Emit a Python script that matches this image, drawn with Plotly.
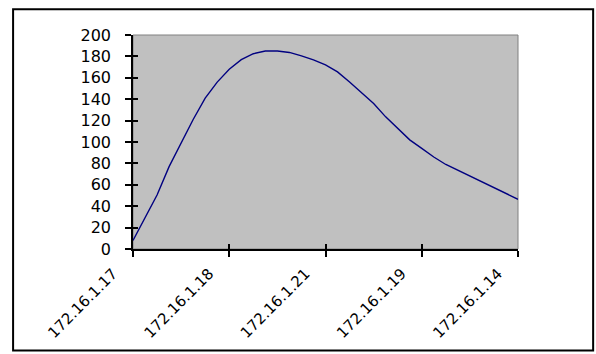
import plotly.graph_objects as go

# Data
point_index = list(range(33))
values = [8, 29.5, 50.5, 77, 99, 121, 141, 156, 168, 177, 182.5, 185, 185, 183.7,
          180.5, 176.8, 172, 165.5, 156, 146, 136, 123.5, 112.5, 102, 94, 86, 79,
          73.5, 68, 62.5, 57, 51.5, 46.5]
tick_positions = [0, 8, 16, 24, 32]
tick_labels = ["172.16.1.17", "172.16.1.18", "172.16.1.21", "172.16.1.19", "172.16.1.14"]
y_ticks = list(range(0, 201, 20))

W, H = 596, 354
L, R, T, B = 133, 596 - 518.3, 35, 354 - 250.7
pw, ph = W - L - R, H - T - B

yfont = dict(family="DejaVu Sans, sans-serif", size=16, color="black")
xfont = dict(family="DejaVu Sans, sans-serif", size=15, color="black")

fig = go.Figure()
fig.add_trace(go.Scatter(x=point_index, y=values, mode="lines",
                         line=dict(color="#000080", width=1.4),
                         hoverinfo="skip", showlegend=False))

fig.update_layout(
    width=W, height=H,
    margin=dict(l=L, r=R, t=T, b=B, pad=0),
    paper_bgcolor="white",
    plot_bgcolor="#C0C0C0",
    showlegend=False,
    xaxis=dict(range=[0, 32], tickvals=tick_positions, ticktext=tick_labels,
               tickangle=-45, ticks="outside", ticklen=6, tickwidth=1.5, tickcolor="black",
               showline=True, linecolor="black", linewidth=2, showgrid=False,
               zeroline=False, tickfont=xfont, ticklabelshift=-20,
               ticklabelstandoff=2, fixedrange=True),
    yaxis=dict(range=[0, 200], tickvals=y_ticks, ticks="outside", ticklen=6,
               tickwidth=1.5, tickcolor="black", showline=True, linecolor="black",
               linewidth=1.5, showgrid=False, zeroline=False, tickfont=yfont,
               ticklabelstandoff=11, fixedrange=True),
    xaxis2=dict(overlaying="x", matches="x", range=[0, 32], tickvals=tick_positions,
                showticklabels=False, ticks="inside", ticklen=5, tickwidth=1.5,
                tickcolor="black", showgrid=False, zeroline=False, showline=False),
    yaxis2=dict(overlaying="y", matches="y", range=[0, 200], tickvals=y_ticks,
                showticklabels=False, ticks="inside", ticklen=5, tickwidth=1.5,
                tickcolor="black", showgrid=False, zeroline=False, showline=False),
)
fig.add_trace(go.Scatter(x=[0], y=[0], xaxis="x2", yaxis="y2", mode="markers",
                         marker=dict(opacity=0), hoverinfo="skip", showlegend=False))

# Plot-area frame (grey top/right edges)
fig.add_shape(type="rect", xref="paper", yref="paper", x0=0, x1=1, y0=0, y1=1,
              line=dict(color="#808080", width=1), layer="below")
# Outer chart border
fig.add_shape(type="rect", xref="paper", yref="paper",
              x0=(13 - L) / pw, x1=(593.5 - L) / pw,
              y0=(H - B - 353) / ph, y1=(H - B - 9) / ph,
              line=dict(color="black", width=2))

fig.write_html("out.html")
